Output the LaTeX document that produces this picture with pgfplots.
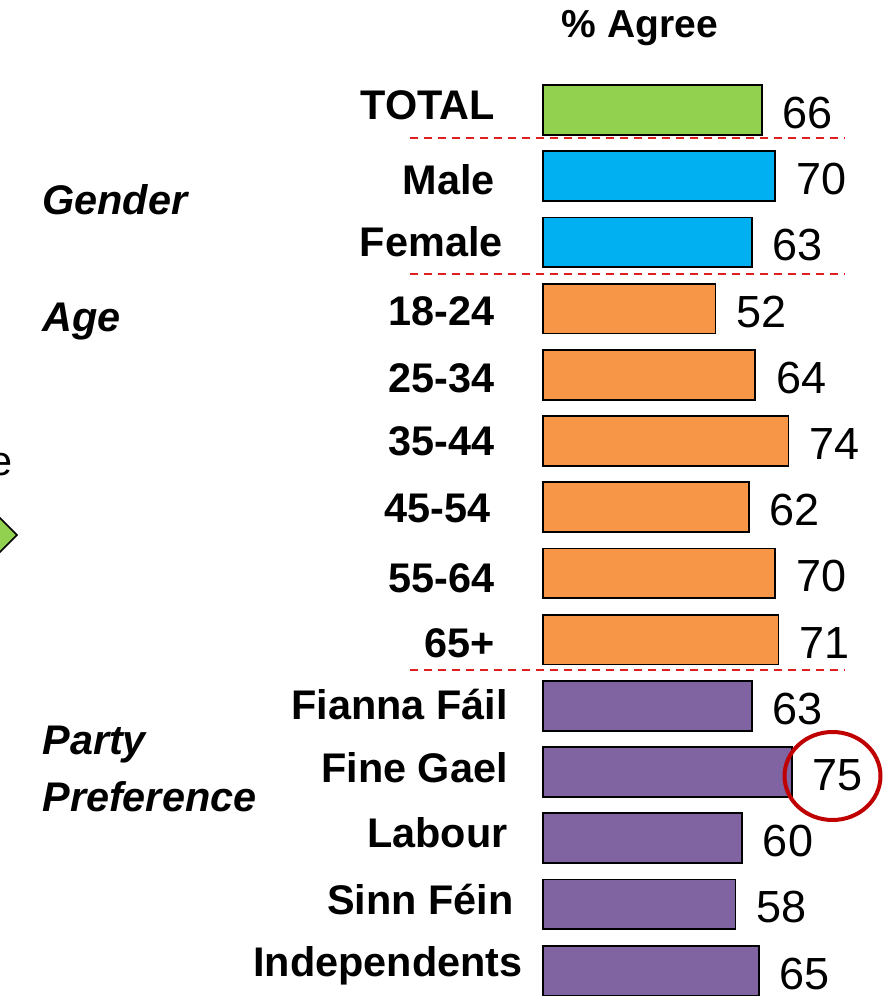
\documentclass[border=0pt]{standalone}
\usepackage{pgfplots}
\pgfplotsset{compat=1.18}
\usepackage{fontspec}
\setmainfont{Liberation Sans}
\definecolor{cgreen}{HTML}{92D050}
\definecolor{cblue}{HTML}{00B0F0}
\definecolor{corange}{HTML}{F79646}
\definecolor{cpurple}{HTML}{8064A2}
\definecolor{cred}{HTML}{E0201C}
\definecolor{cdred}{HTML}{C00000}
\begin{document}
\begin{tikzpicture}
\useasboundingbox (0,0) rectangle (444pt,498.5pt);
\begin{axis}[
  at={(0,0)}, anchor=south west,
  scale only axis, width=444pt, height=498.5pt,
  xmin=-163.65, xmax=103.98, ymin=-1.6616, ymax=13.399,
  y dir=reverse, hide axis, clip=false,
  xbar, bar width=0.755, bar shift=0pt,
  /pgf/number format/assume math mode=true,
  nodes near coords,
  every node near coord/.style={anchor=west, inner sep=0pt, xshift=10pt, yshift=-1.5pt, font=\fontsize{22.5pt}{26pt}\selectfont, text=black},
  point meta=x,
  nodes near coords={\pgfmathprintnumber[fixed,precision=0,assume math mode=true]{\pgfplotspointmeta}},
]
\addplot[fill=cgreen, draw=black, line width=0.9pt, bar shift=0pt] coordinates {(66,0)};
\addplot[fill=cblue, draw=black, line width=0.9pt, bar shift=0pt] coordinates {(70,1) (63,2)};
\addplot[fill=corange, draw=black, line width=0.9pt, bar shift=0pt] coordinates {(52,3) (64,4) (74,5) (62,6) (70,7) (71,8)};
\addplot[fill=cpurple, draw=black, line width=0.9pt, bar shift=0pt] coordinates {(63,9) (75,10) (60,11) (58,12) (65,13)};
\end{axis}
\begin{scope}[shift={(0pt,498.5pt)}, x=0.5pt, y=-0.5pt]
  % dashed separators
  \foreach \yy in {138,274,670} {
    \draw[cred, line width=0.8pt, dash pattern=on 4pt off 3pt] (410,\yy) -- (845,\yy);
  }
  % header
  \node[font=\bfseries\fontsize{19.5pt}{22pt}\selectfont] at (640,28) {\% Agree};
  % category labels
  \begin{scope}[every node/.style={anchor=east, inner sep=0pt, font=\bfseries\fontsize{20.7pt}{24pt}\selectfont}]
    \node at (495,105) {TOTAL};
    \node at (495,180) {Male};
    \node at (503,242) {Female};
    \node at (495,311) {18-24};
    \node at (495,378) {25-34};
    \node at (495,441) {35-44};
    \node at (491,508) {45-54};
    \node at (495,578) {55-64};
    \node at (495,643) {65+};
    \node at (508,705) {Fianna Fáil};
    \node at (508,768) {Fine Gael};
    \node at (508,833) {Labour};
    \node at (514,900) {Sinn Féin};
    \node at (523,966) {Independents};
  \end{scope}
  % group labels
  \begin{scope}[every node/.style={anchor=west, inner sep=0pt, font=\bfseries\itshape\fontsize{20.7pt}{24pt}\selectfont}]
    \node at (42,200) {Gender};
    \node at (42,322) {Age};
    \node at (42,745) {Party};
    \node at (42,797) {Preference};
  \end{scope}
  % cropped slide remnants
  \node[anchor=east, inner sep=0pt, font=\fontsize{20.7pt}{24pt}\selectfont] at (13,465) {e};
  \draw[fill=cgreen, draw=black, line width=0.8pt] (17,535) -- (-20,498) -- (-57,535) -- (-20,572) -- cycle;
  % highlight circle
  \draw[cdred, line width=2pt] (832.5,776) ellipse [x radius=48, y radius=44];
\end{scope}
\end{tikzpicture}
\end{document}
